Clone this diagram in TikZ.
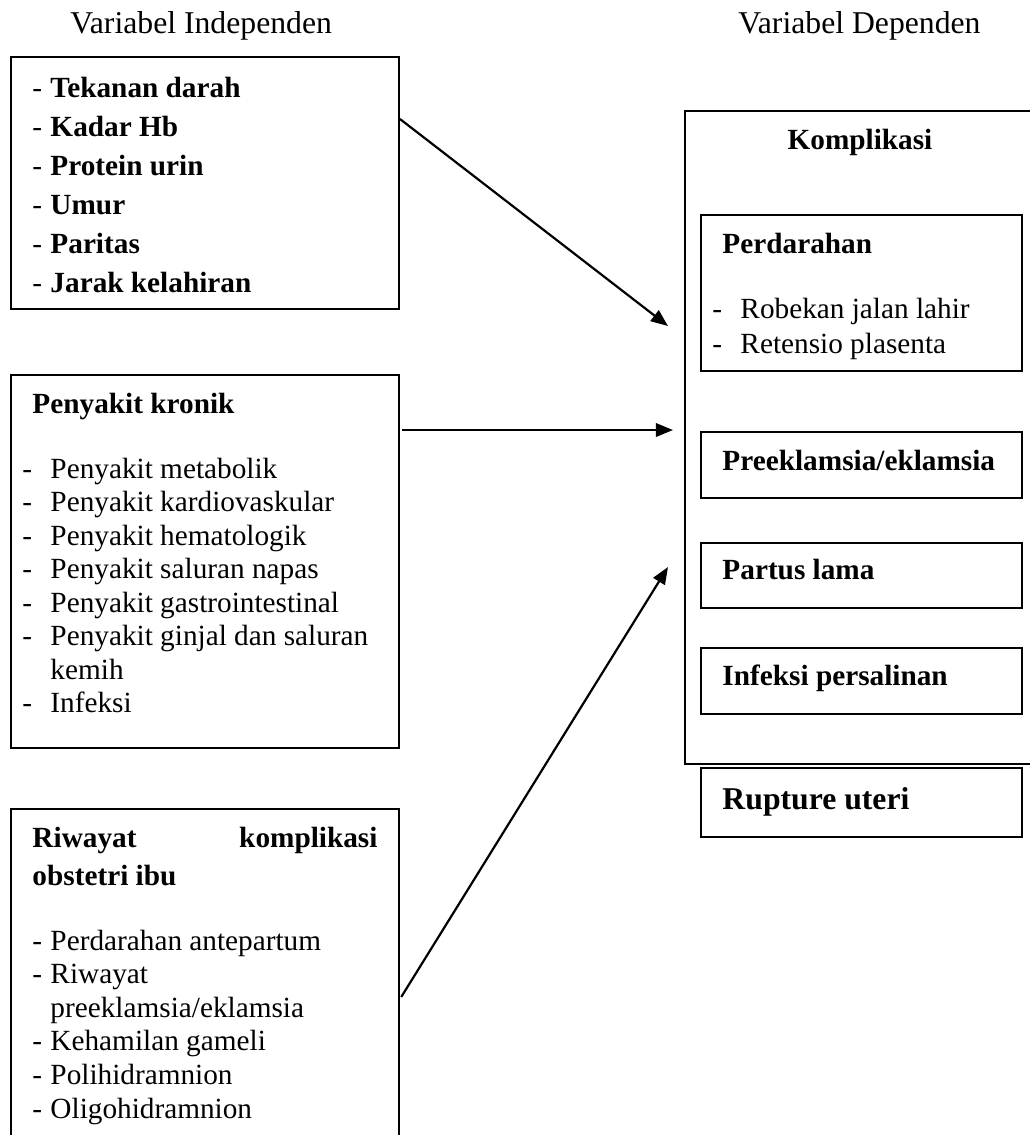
\documentclass[tikz,border=0pt]{standalone}
\usepackage{fontspec}
\setmainfont{Liberation Serif}
\usepackage{tikz}
\usetikzlibrary{positioning,arrows.meta,fit}
\newcommand{\px}{0.41pt}
\tikzset{
  frame/.style={draw,line width=0.8pt,inner sep=0pt},
  txt/.style={anchor=base west,inner sep=0pt,font=\fontsize{12}{14}\selectfont},
  bold/.style={txt,font=\fontsize{12}{14}\selectfont\bfseries},
  head/.style={txt,font=\fontsize{13}{15}\selectfont},
  arr/.style={-{Triangle[length=7pt,width=5.5pt]},line width=0.9pt},
}

\begin{document}
\begin{tikzpicture}[x=\px,y=-\px]
\useasboundingbox (0,0) rectangle (1030,1135);

% column headers
\node[head] (hdind) at (70,33) {Variabel Independen};
\node[head] (hddep) at (738,33) {Variabel Dependen};

% independent variables
\node[frame,fit={(11,57)(399,309)}] (indep) {};
\foreach \t [count=\i] in {Tekanan darah,Kadar Hb,Protein urin,Umur,Paritas,Jarak kelahiran}{
  \node[txt] (indd\i) at (32,{97+39*(\i-1)}) {-};
  \node[bold] (ind\i) at (50,{97+39*(\i-1)}) {\t};
}

\node[frame,fit={(11,375)(399,748)}] (kronik) {};
\node[bold] (krhead) at (32,413) {Penyakit kronik};
\foreach \d/\t [count=\i] in {-/Penyakit metabolik,-/Penyakit kardiovaskular,
    -/Penyakit hematologik,-/Penyakit saluran napas,-/Penyakit gastrointestinal,
    -/Penyakit ginjal dan saluran,/kemih,-/Infeksi}{
  \node[txt] (krd\i) at (22,{478+33.5*(\i-1)}) {\d};
  \node[txt] (kr\i) at (50,{478+33.5*(\i-1)}) {\t};
}

\node[frame,fit={(11,809)(399,1145)}] (riwayat) {};
\node[bold] (rwhead) at (32,847) {Riwayat};
\node[bold,anchor=base east] (rwhead2) at (378,847) {komplikasi};
\node[bold] (rwhead3) at (32,885) {obstetri ibu};
\foreach \d/\t [count=\i] in {-/Perdarahan antepartum,-/Riwayat,/{preeklamsia/eklamsia},
    -/Kehamilan gameli,-/Polihidramnion,-/Oligohidramnion}{
  \node[txt] (rwd\i) at (32,{950+33.6*(\i-1)}) {\d};
  \node[txt] (rw\i) at (50,{950+33.6*(\i-1)}) {\t};
}

% dependent variable
\node[frame,line width=0.7pt,fit={(685,111)(1040,764)}] (kompl) {};
\node[bold,anchor=base] (kohead) at (860,149) {Komplikasi};

\node[frame,fit={(701,215)(1022,371)}] (perd) {};
\node[bold] (pdhead) at (722,253) {Perdarahan};
\foreach \t [count=\i] in {Robekan jalan lahir,Retensio plasenta}{
  \node[txt] (pdd\i) at (712,{318+35*(\i-1)}) {-};
  \node[txt] (pd\i) at (740,{318+35*(\i-1)}) {\t};
}
\node[frame,fit={(701,432)(1022,498)}] (preek) {};
\node[bold] (prtxt) at (722,470) {Preeklamsia/eklamsia};
\node[frame,fit={(701,543)(1022,608)}] (partus) {};
\node[bold] (pltxt) at (722,579) {Partus lama};
\node[frame,fit={(701,648)(1022,714)}] (infeksi) {};
\node[bold] (iftxt) at (722,685) {Infeksi persalinan};
\node[frame,fit={(701,768)(1022,837)}] (rupture) {};
\node[bold,font=\fontsize{13}{15}\selectfont\bfseries] (rutxt) at (722,809) {Rupture uteri};

% arrows
\coordinate (tip1) at (668,326);
\coordinate (tip2) at (673,430);
\coordinate (tip3) at (668,567);
\draw[arr] (indep.east |- 0,119) -- (tip1);
\draw[arr,shorten <=1pt] (kronik.east |- 0,430) -- (tip2);
\draw[arr,shorten <=1pt] (riwayat.east |- 0,999) -- (tip3);
\end{tikzpicture}
\end{document}
